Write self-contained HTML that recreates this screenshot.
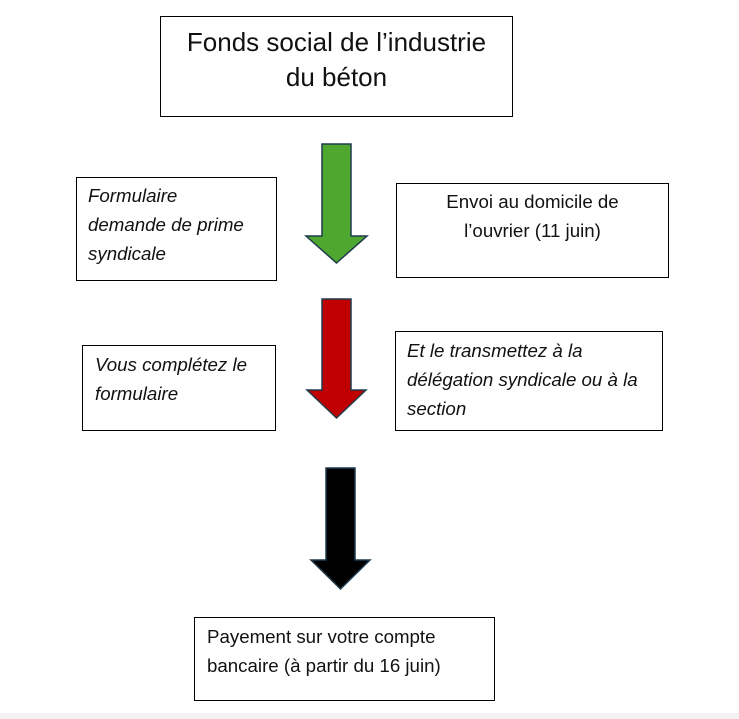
<!DOCTYPE html>
<html><head><meta charset="utf-8"><style>
html,body{margin:0;padding:0;background:#fff}
body{width:739px;height:719px;position:relative;overflow:hidden;font-family:"Liberation Sans",sans-serif;color:#111}
.b{position:absolute;border:1px solid #000;box-sizing:border-box;background:#fff}
.t{position:absolute;font-size:18.7px;line-height:29px;white-space:nowrap}
.i{font-style:italic}
.c{text-align:center}
</style></head><body>
<div class="b" style="left:160px;top:16px;width:353px;height:101px"></div>
<div class="t c" style="left:160px;top:25px;width:353px;font-size:26px;line-height:35px">Fonds social de l’industrie<br>du béton</div>

<div class="b" style="left:76px;top:177px;width:201px;height:104px"></div>
<div class="t i" style="left:88px;top:181px">Formulaire<br>demande de prime<br>syndicale</div>

<div class="b" style="left:396px;top:183px;width:273px;height:95px"></div>
<div class="t c" style="left:396px;top:187px;width:273px">Envoi au domicile de<br>l’ouvrier (11 juin)</div>

<div class="b" style="left:82px;top:345px;width:194px;height:86px"></div>
<div class="t i" style="left:95px;top:350px">Vous complétez le<br>formulaire</div>

<div class="b" style="left:395px;top:331px;width:268px;height:100px"></div>
<div class="t i" style="left:407px;top:336px">Et le transmettez à la<br>délégation syndicale ou à la<br>section</div>

<div class="b" style="left:194px;top:617px;width:301px;height:84px"></div>
<div class="t" style="left:207px;top:622px">Payement sur votre compte<br>bancaire (à partir du 16 juin)</div>

<svg width="739" height="719" style="position:absolute;left:0;top:0">
<polygon points="322,144 351,144 351,236 367,236 336.5,263 306,236 322,236" fill="#4ea72e" stroke="#1f3b4d" stroke-width="1.5"/>
<polygon points="322,299 351,299 351,390 366,390 336.5,418 307,390 322,390" fill="#c00000" stroke="#1f3b4d" stroke-width="1.5"/>
<polygon points="326,468 355,468 355,560 370,560 340.5,589 311,560 326,560" fill="#000" stroke="#1f3b4d" stroke-width="1.5"/>
</svg>
<div style="position:absolute;left:0;top:713px;width:739px;height:6px;background:#f3f3f3"></div>
</body></html>
